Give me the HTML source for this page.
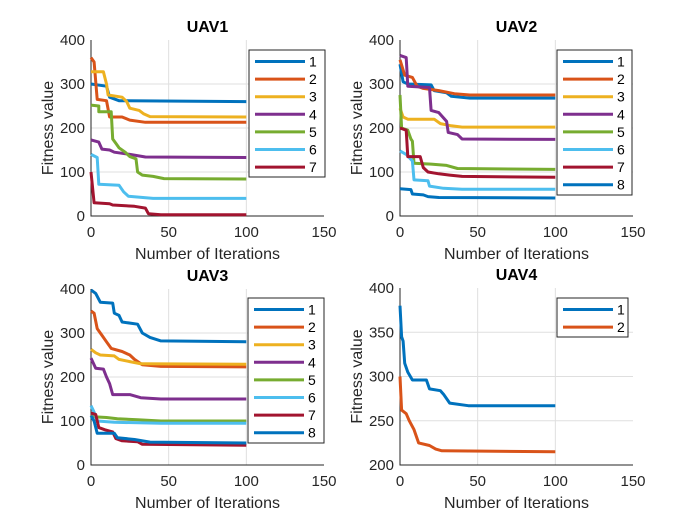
<!DOCTYPE html>
<html><head><meta charset="utf-8"><style>
body{margin:0;background:#fff;}
svg{display:block;font-family:"Liberation Sans",sans-serif;}
</style></head><body>
<svg id="fig" width="700" height="525"></svg>
<script>
const colors=["#0072BD","#D95319","#EDB120","#7E2F8E","#77AC30","#4DBEEE","#A2142F","#0072BD"];
const xTicks=[0,50,100,150];
const yTicksA=[0,100,200,300,400];
const yTicksB=[200,250,300,350,400];
// UAV1
const uav1X=[[0,10,12,18,100],[0,2,4,10,12,20,25,35,100],[0,8,10,11,20,23,25,31,34,38,100],[0,5,7,12,15,25,35,100],[0,5,5,13,14,16,18,22,25,29,30,33,40,47,100],[0,4,5,18,21,24,40,100],[0,2,12,14,28,35,37,45,100]];
const uav1Y=[[300,295,270,262,260],[360,350,265,262,225,225,218,213,213],[328,328,300,275,270,260,245,240,232,226,225],[173,168,152,150,145,140,134,133],[252,250,237,237,175,165,155,145,135,130,100,93,90,85,84],[140,133,72,70,55,45,40,40],[100,30,28,25,22,18,5,3,3]];
// UAV2
const uav2X=[[0,2,5,20,22,30,33,45,100],[0,3,8,11,15,25,35,45,100],[0,2,5,22,26,33,40,100],[0,4,5,19,20,25,30,31,37,40,100],[0,1,5,7,8,9,20,30,37,100],[0,4,8,9,18,19,28,40,100],[0,4,5,13,15,18,25,32,40,100],[0,7,8,15,18,25,100]];
const uav2Y=[[345,305,300,298,285,280,272,268,268],[355,320,315,295,290,285,278,275,275],[245,225,220,220,210,205,202,202],[365,360,295,292,240,235,215,190,185,175,174],[275,200,195,175,170,120,118,115,108,106],[148,140,125,82,80,68,63,61,61],[200,195,135,135,110,100,96,93,90,88],[62,60,50,48,44,42,41]];
// UAV3
const uav3X=[[0,3,6,14,15,18,20,30,33,38,45,100],[0,2,4,7,10,13,20,25,28,33,45,100],[0,3,6,15,18,25,32,100],[0,3,8,10,12,14,25,32,45,100],[0,10,17,30,45,100],[0,2,4,15,45,100],[0,3,5,9,14,16,20,30,33,100],[0,2,4,15,17,28,38,100]];
const uav3Y=[[398,390,370,368,345,340,325,320,300,290,282,280],[350,345,310,295,280,265,258,250,240,228,224,223],[263,255,250,248,240,235,230,229],[243,220,218,200,185,160,160,153,150,150],[110,108,105,103,100,100],[135,120,100,97,95,95],[118,115,85,80,75,60,55,53,47,45],[112,100,72,72,62,58,52,50]];
// UAV4
const uav4X=[[0,1,2,3,5,8,17,19,26,28,32,44,100],[0,1,4,6,9,12,19,23,27,100]];
const uav4Y=[[380,345,340,315,305,296,296,286,284,280,270,267,267],[300,262,258,250,240,225,222,218,216,215]];

const NS="http://www.w3.org/2000/svg";
const svg=document.getElementById('fig');
function mk(tag,attrs,parent){const e=document.createElementNS(NS,tag);for(const k in attrs)e.setAttribute(k,attrs[k]);(parent||svg).appendChild(e);return e;}

const panels=[
 {title:"UAV1",L:91,T:40,B:216,yt:yTicksA,xs:uav1X,ys:uav1Y,leg:[249,50,76,127]},
 {title:"UAV2",L:400,T:40,B:216,yt:yTicksA,xs:uav2X,ys:uav2Y,leg:[557,50,75,145]},
 {title:"UAV3",L:91,T:289,B:465,yt:yTicksA,xs:uav3X,ys:uav3Y,leg:[248,298,76,145]},
 {title:"UAV4",L:400,T:288,B:465,yt:yTicksB,xs:uav4X,ys:uav4Y,leg:[557,298,71,39]}
];
panels.forEach((p,pi)=>{
 const g=mk('g',{});
 
 
 const W=233, y0=p.yt[0], y1=p.yt[p.yt.length-1];
 const sx=v=>p.L+v/150*W;
 const sy=v=>p.B-(v-y0)/(y1-y0)*(p.B-p.T);
 mk('rect',{x:p.L,y:p.T,width:W,height:p.B-p.T,fill:'#fff'},g);
 xTicks.forEach(t=>{
  const x=sx(t);
  if(t>0&&t<150){const l=mk('line',{x1:x,x2:x,y1:p.T,y2:p.B,stroke:'#dfdfdf','stroke-width':1},g);}
  const tx=mk('text',{x:x,y:p.B+21,'font-size':15,fill:'#262626','text-anchor':'middle'},g);tx.textContent=t;
  
 });
 p.yt.forEach(t=>{
  const y=sy(t);
  if(t>y0&&t<y1){const l=mk('line',{x1:p.L,x2:p.L+W,y1:y,y2:y,stroke:'#dfdfdf','stroke-width':1},g);}
  const tx=mk('text',{x:p.L-6,y:y+5,'font-size':15,fill:'#262626','text-anchor':'end'},g);tx.textContent=t;
  
 });
 mk('path',{d:`M${p.L},${p.T}V${p.B}H${p.L+W}`,fill:'none',stroke:'#262626','stroke-width':1},g);
 p.xs.forEach((xs,i)=>{
  const d=xs.map((x,j)=>(j?'L':'M')+sx(x).toFixed(1)+','+sy(p.ys[i][j]).toFixed(1)).join('');
  const pa=mk('path',{d:d,fill:'none',stroke:colors[i],'stroke-width':3,'stroke-linejoin':'round'},g);
  
  
 });
 const t=mk('text',{x:p.L+W/2,y:p.T-8,'font-size':16,'font-weight':'bold','text-anchor':'middle',fill:'#000'},g);t.textContent=p.title;
 
 const xl=mk('text',{x:p.L+W/2,y:p.B+43,'font-size':16,'text-anchor':'middle',fill:'#262626'},g);xl.textContent='Number of Iterations';
 
 const cy=(p.T+p.B)/2, cx=p.L-38;
 const yl=mk('text',{x:cx,y:cy,'font-size':16,'text-anchor':'middle',fill:'#262626',transform:`rotate(-90 ${cx} ${cy})`},g);yl.textContent='Fitness value';
 
 const [lx,ly,lw,lh]=p.leg;
 const lg=mk('g',{},g);
 
 mk('rect',{x:lx,y:ly,width:lw,height:lh,fill:'#fff',stroke:'#262626','stroke-width':1},lg);
 p.xs.forEach((xs,i)=>{
  const yy=ly+11.5+i*17.6;
  const e=mk('g',{},lg);
  
  mk('line',{x1:lx+6,x2:lx+56,y1:yy,y2:yy,stroke:colors[i],'stroke-width':3},e);
  const tt=mk('text',{x:lx+60,y:yy+5,'font-size':14,fill:'#000'},e);tt.textContent=i+1;
 });
});
</script>
</body></html>
